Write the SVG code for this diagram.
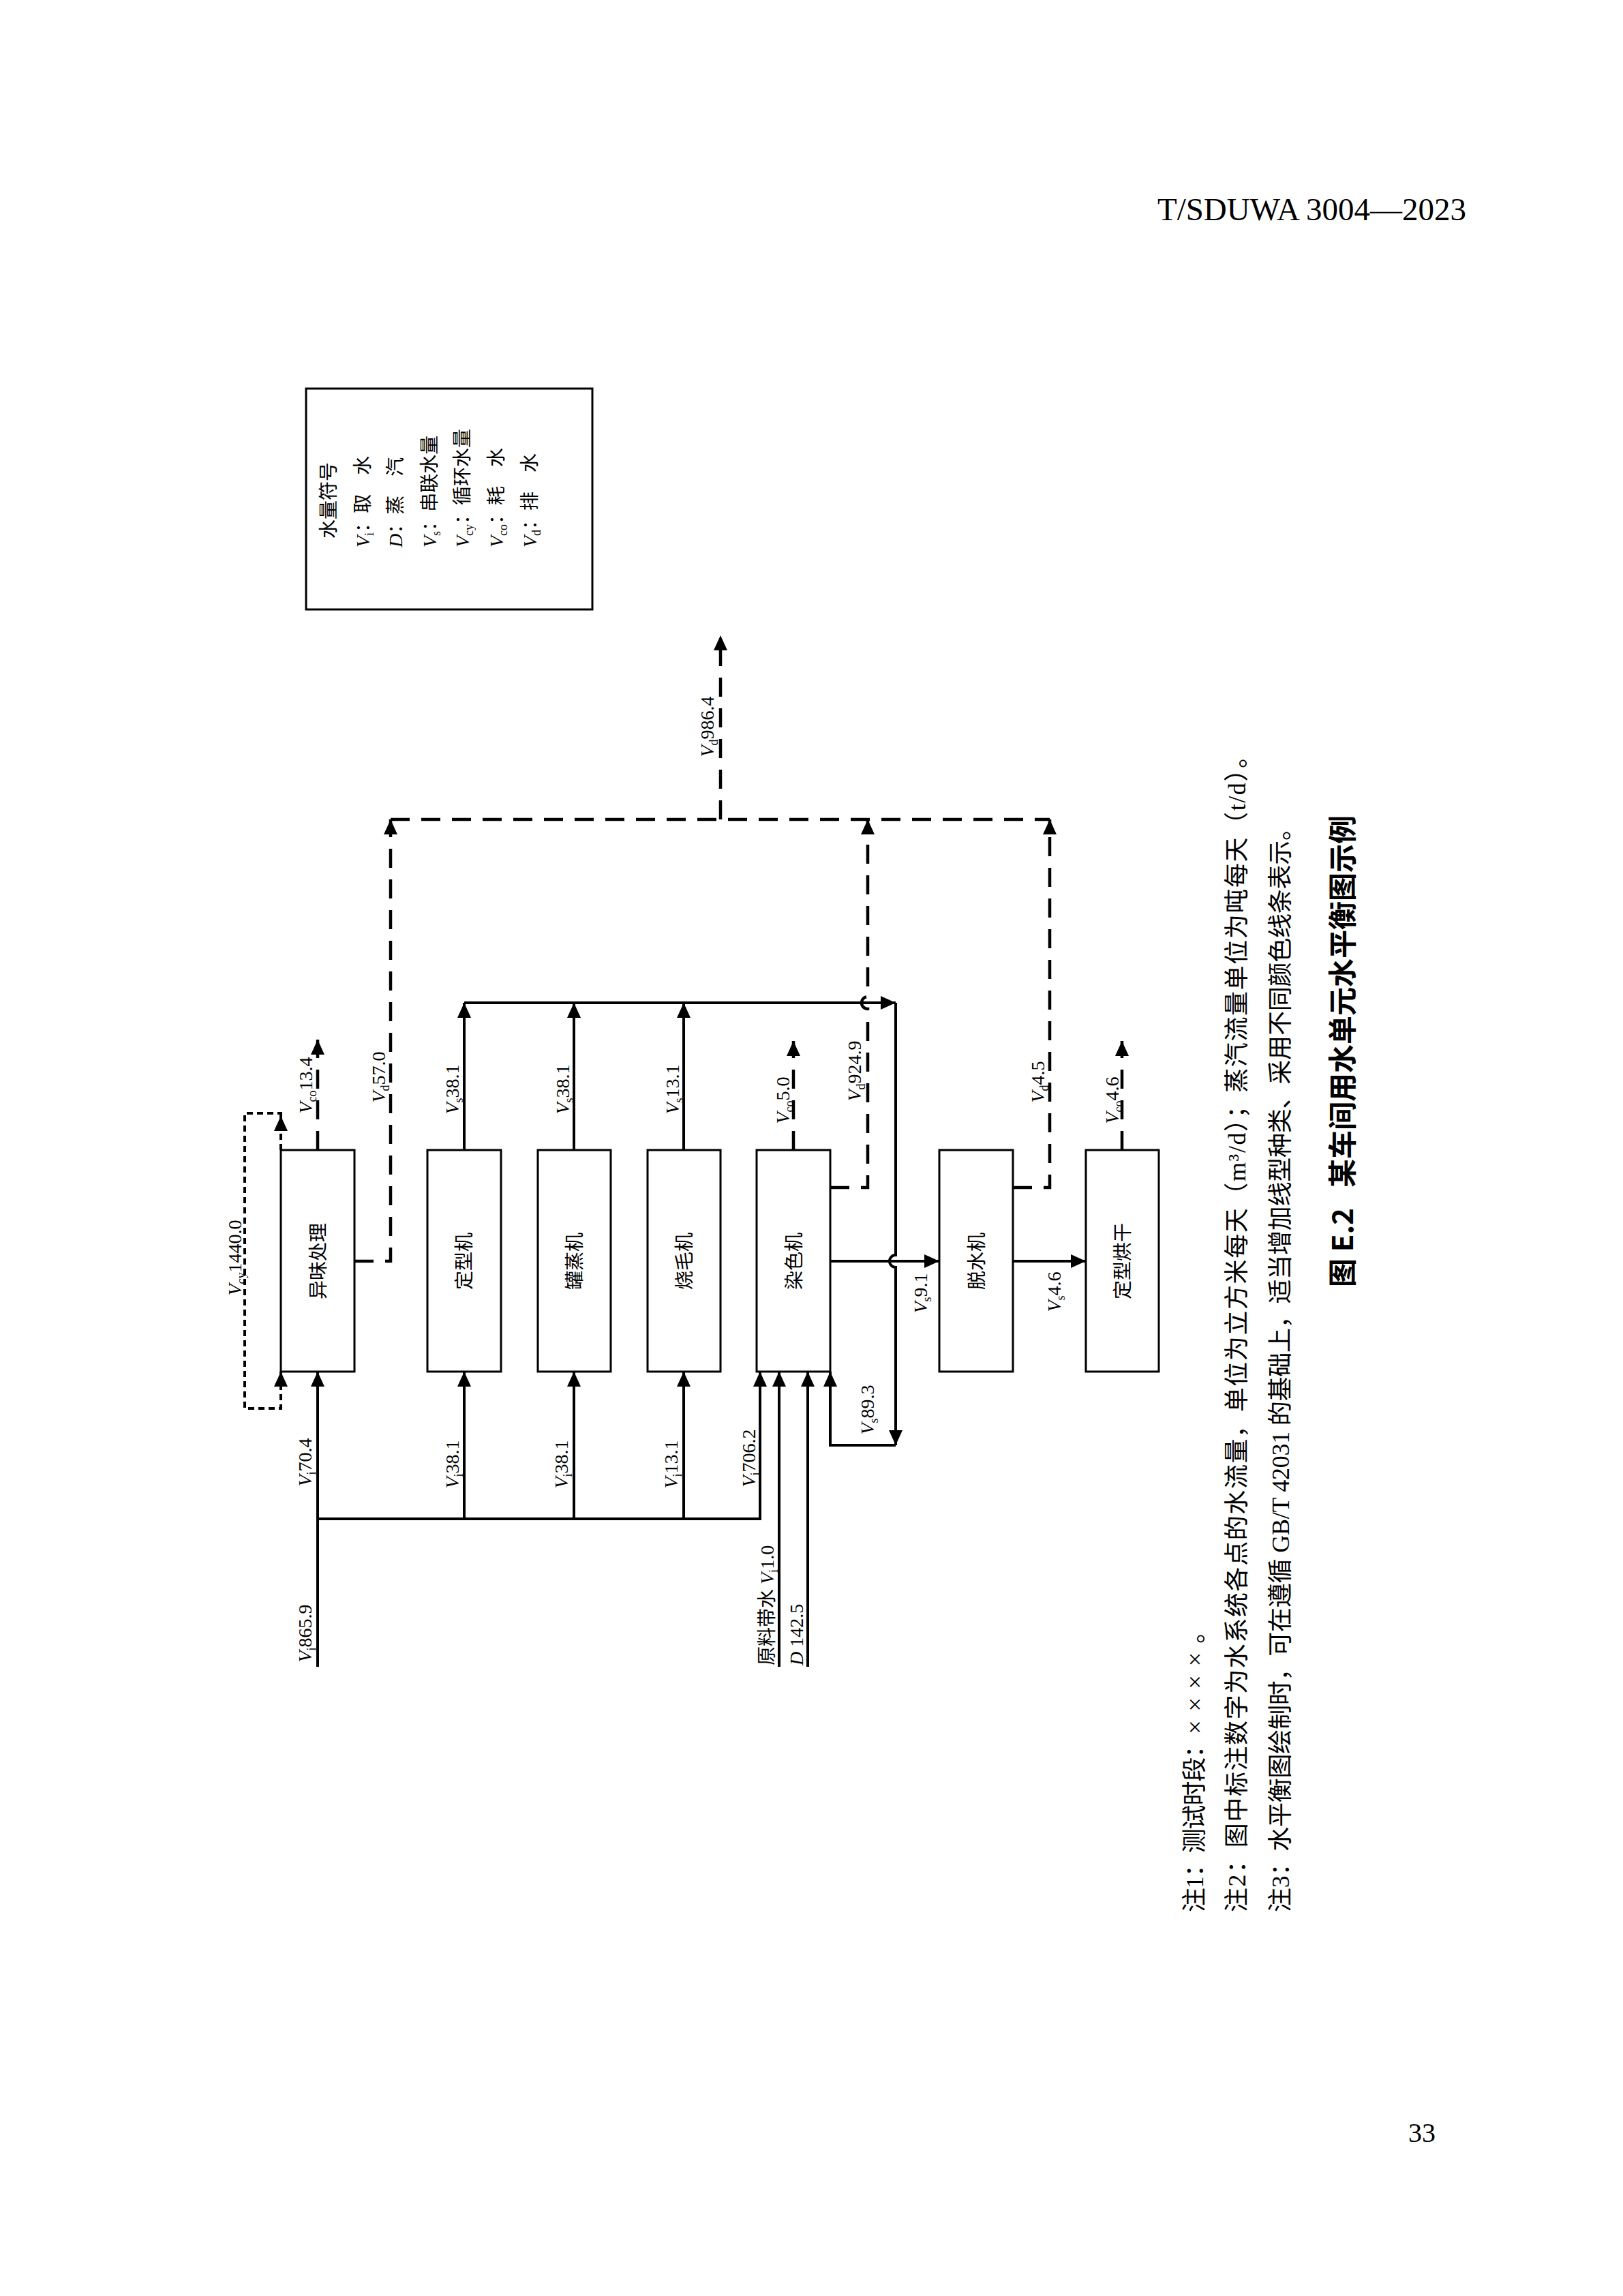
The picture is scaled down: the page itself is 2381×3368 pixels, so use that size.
<svg xmlns="http://www.w3.org/2000/svg" width="2381" height="3368" viewBox="0 0 2381 3368">
<defs>
<style>
.box{fill:#fff;stroke:#000;stroke-width:3}
.c{fill:none;stroke:#000;stroke-width:4}
.d{fill:none;stroke:#000;stroke-width:4.5;stroke-dasharray:28 17}
.o{fill:none;stroke:#000;stroke-width:4;stroke-dasharray:9 6}
.a{marker-end:url(#ah)}
.t{font-family:'Liberation Serif','Noto Sans CJK SC',serif;font-size:28px;fill:#000}
.m{text-anchor:middle}
.i{font-style:italic}
.s{font-size:18px;font-style:normal}
.note{font-family:'Liberation Serif','Noto Sans CJK SC',serif;font-size:36px;fill:#000}
.cap{font-family:'Noto Sans CJK SC',sans-serif;font-size:42px;font-weight:bold;text-anchor:middle;fill:#000}
.hdr{font-family:'Liberation Serif',serif;fill:#000}
</style>
<marker id="ah" markerUnits="userSpaceOnUse" markerWidth="22" markerHeight="20" viewBox="0 0 22 20" refX="22" refY="10" orient="auto"><path d="M0,0 L22,10 L0,20 z" fill="#000" stroke="none"/></marker>
</defs>
<rect width="2381" height="3368" fill="#fff"/>

<text class="hdr" x="2151" y="323" font-size="47" text-anchor="end">T/SDUWA 3004—2023</text>
<text class="hdr" x="2066" y="3142" font-size="40">33</text>

<g id="legend">
<rect class="box" x="449" y="570" width="420" height="324"/>
<text class="t" transform="translate(492,790) rotate(-90)">水量符号</text>
<text class="t" transform="translate(542,803) rotate(-90)"><tspan class="i">V</tspan><tspan class="s" dy="6">i</tspan><tspan dy="-6">：取　水</tspan></text>
<text class="t" transform="translate(590,803) rotate(-90)"><tspan class="i">D</tspan><tspan>：蒸　汽</tspan></text>
<text class="t" transform="translate(640,803) rotate(-90)"><tspan class="i">V</tspan><tspan class="s" dy="6">s</tspan><tspan dy="-6">：串联水量</tspan></text>
<text class="t" transform="translate(688,803) rotate(-90)"><tspan class="i">V</tspan><tspan class="s" dy="6">cy</tspan><tspan dy="-6">：循环水量</tspan></text>
<text class="t" transform="translate(738,803) rotate(-90)"><tspan class="i">V</tspan><tspan class="s" dy="6">co</tspan><tspan dy="-6">：耗　水</tspan></text>
<text class="t" transform="translate(787,803) rotate(-90)"><tspan class="i">V</tspan><tspan class="s" dy="6">d</tspan><tspan dy="-6">：排　水</tspan></text>
</g>

<g id="node-yiwei"><rect class="box" x="412" y="1687" width="108" height="325"/><text class="t m" transform="translate(477,1850) rotate(-90)">异味处理</text></g>
<g id="node-dingxingji"><rect class="box" x="627" y="1687" width="108" height="325"/><text class="t m" transform="translate(691,1850) rotate(-90)">定型机</text></g>
<g id="node-guanzhengji"><rect class="box" x="789" y="1687" width="107" height="325"/><text class="t m" transform="translate(853,1850) rotate(-90)">罐蒸机</text></g>
<g id="node-shaomaoji"><rect class="box" x="950" y="1687" width="107" height="325"/><text class="t m" transform="translate(1014,1850) rotate(-90)">烧毛机</text></g>
<g id="node-ranseji"><rect class="box" x="1110" y="1687" width="108" height="325"/><text class="t m" transform="translate(1175,1850) rotate(-90)">染色机</text></g>
<g id="node-tuoshuiji"><rect class="box" x="1378" y="1687" width="108" height="325"/><text class="t m" transform="translate(1443,1850) rotate(-90)">脱水机</text></g>
<g id="node-dingxinghonggan"><rect class="box" x="1593" y="1687" width="107" height="325"/><text class="t m" transform="translate(1657,1850) rotate(-90)">定型烘干</text></g>

<g id="connectors">
<path class="o a" d="M412,1687 V1637"/>
<path class="o" d="M412,1637 V1633 H359 V2066 H412 V2030"/>
<path class="o a" d="M412,2034 V2012"/>
<path class="c a" d="M466,2445 V2012"/>
<path class="c a" d="M466,2228 H1115 V2012"/>
<path class="c a" d="M681,2228 V2012"/>
<path class="c a" d="M842,2228 V2012"/>
<path class="c a" d="M1003,2228 V2012"/>
<path class="c a" d="M1143,2445 V2012"/>
<path class="c a" d="M1185,2445 V2012"/>
<path class="c a" d="M681,1687 V1471"/>
<path class="c a" d="M842,1687 V1471"/>
<path class="c a" d="M1003,1687 V1471"/>
<path class="c a" d="M681,1471 H1314"/>
<path class="c a" d="M1314,1471 V1841 A9,9 0 0 0 1314,1859 V2120"/>
<path class="c a" d="M1314,2120 H1218 V2012"/>
<path class="c a" d="M1218,1850 H1378"/>
<path class="c a" d="M1486,1850 H1593"/>
<path class="d a" d="M466,1687 V1525"/>
<path class="d a" d="M1164,1687 V1527"/>
<path class="d a" d="M1646,1687 V1527"/>
<path class="d a" d="M520,1850 H573 V1202"/>
<path class="d a" d="M1218,1742 H1273 V1480 A9,9 0 0 1 1273,1462 V1202"/>
<path class="d a" d="M1486,1742 H1540 V1202"/>
<path class="d" d="M573,1202 H1540"/>
<path class="d a" d="M1057,1202 V932"/>
</g>

<g id="labels">
<text class="t m" transform="translate(354,1845) rotate(-90)"><tspan class="i">V</tspan><tspan class="s" dy="6">cy</tspan><tspan dy="-6">1440.0</tspan></text>
<text class="t m" transform="translate(458,1592) rotate(-90)"><tspan class="i">V</tspan><tspan class="s" dy="6">co</tspan><tspan dy="-6">13.4</tspan></text>
<text class="t m" transform="translate(565,1580) rotate(-90)"><tspan class="i">V</tspan><tspan class="s" dy="6">d</tspan><tspan dy="-6">57.0</tspan></text>
<text class="t m" transform="translate(673,1598) rotate(-90)"><tspan class="i">V</tspan><tspan class="s" dy="6">s</tspan><tspan dy="-6">38.1</tspan></text>
<text class="t m" transform="translate(835,1598) rotate(-90)"><tspan class="i">V</tspan><tspan class="s" dy="6">s</tspan><tspan dy="-6">38.1</tspan></text>
<text class="t m" transform="translate(996,1598) rotate(-90)"><tspan class="i">V</tspan><tspan class="s" dy="6">s</tspan><tspan dy="-6">13.1</tspan></text>
<text class="t m" transform="translate(1158,1614) rotate(-90)"><tspan class="i">V</tspan><tspan class="s" dy="6">co</tspan><tspan dy="-6">5.0</tspan></text>
<text class="t m" transform="translate(1263,1571) rotate(-90)"><tspan class="i">V</tspan><tspan class="s" dy="6">d</tspan><tspan dy="-6">924.9</tspan></text>
<text class="t m" transform="translate(1532,1587) rotate(-90)"><tspan class="i">V</tspan><tspan class="s" dy="6">d</tspan><tspan dy="-6">4.5</tspan></text>
<text class="t m" transform="translate(1641,1614) rotate(-90)"><tspan class="i">V</tspan><tspan class="s" dy="6">co</tspan><tspan dy="-6">4.6</tspan></text>
<text class="t m" transform="translate(1047,1066) rotate(-90)"><tspan class="i">V</tspan><tspan class="s" dy="6">d</tspan><tspan dy="-6">986.4</tspan></text>
<text class="t m" transform="translate(457,2145) rotate(-90)"><tspan class="i">V</tspan><tspan class="s" dy="6">i</tspan><tspan dy="-6">70.4</tspan></text>
<text class="t m" transform="translate(673,2148) rotate(-90)"><tspan class="i">V</tspan><tspan class="s" dy="6">i</tspan><tspan dy="-6">38.1</tspan></text>
<text class="t m" transform="translate(833,2148) rotate(-90)"><tspan class="i">V</tspan><tspan class="s" dy="6">i</tspan><tspan dy="-6">38.1</tspan></text>
<text class="t m" transform="translate(994,2148) rotate(-90)"><tspan class="i">V</tspan><tspan class="s" dy="6">i</tspan><tspan dy="-6">13.1</tspan></text>
<text class="t m" transform="translate(1108,2139) rotate(-90)"><tspan class="i">V</tspan><tspan class="s" dy="6">i</tspan><tspan dy="-6">706.2</tspan></text>
<text class="t m" transform="translate(457,2396) rotate(-90)"><tspan class="i">V</tspan><tspan class="s" dy="6">i</tspan><tspan dy="-6">865.9</tspan></text>
<text class="t" transform="translate(1135,2443) rotate(-90)">原料带水 <tspan class="i">V</tspan><tspan class="s" dy="6">i</tspan><tspan dy="-6">1.0</tspan></text>
<text class="t" transform="translate(1178,2443) rotate(-90)"><tspan class="i">D</tspan> 142.5</text>
<text class="t m" transform="translate(1282,2068) rotate(-90)"><tspan class="i">V</tspan><tspan class="s" dy="6">s</tspan><tspan dy="-6">89.3</tspan></text>
<text class="t m" transform="translate(1360,1897) rotate(-90)"><tspan class="i">V</tspan><tspan class="s" dy="6">s</tspan><tspan dy="-6">9.1</tspan></text>
<text class="t m" transform="translate(1556,1895) rotate(-90)"><tspan class="i">V</tspan><tspan class="s" dy="6">s</tspan><tspan dy="-6">4.6</tspan></text>
</g>

<g id="notes">
<text class="note" transform="translate(1765,2805) rotate(-90)" textLength="430" lengthAdjust="spacing">注1：测试时段：<tspan style="letter-spacing:14px">××××</tspan>。</text>
<text class="note" transform="translate(1827,2805) rotate(-90)" textLength="1714" lengthAdjust="spacing">注2：图中标注数字为水系统各点的水流量，单位为立方米每天（m³/d）；蒸汽流量单位为吨每天（t/d）。</text>
<text class="note" transform="translate(1891,2805) rotate(-90)" textLength="1608" lengthAdjust="spacing">注3：水平衡图绘制时，可在遵循 GB/T 42031 的基础上，适当增加线型种类、采用不同颜色线条表示。</text>
<text class="cap" transform="translate(1985,1542) rotate(-90)">图 E.2<tspan dx="30">某车间用水单元水平衡图示例</tspan></text>
</g>
</svg>
